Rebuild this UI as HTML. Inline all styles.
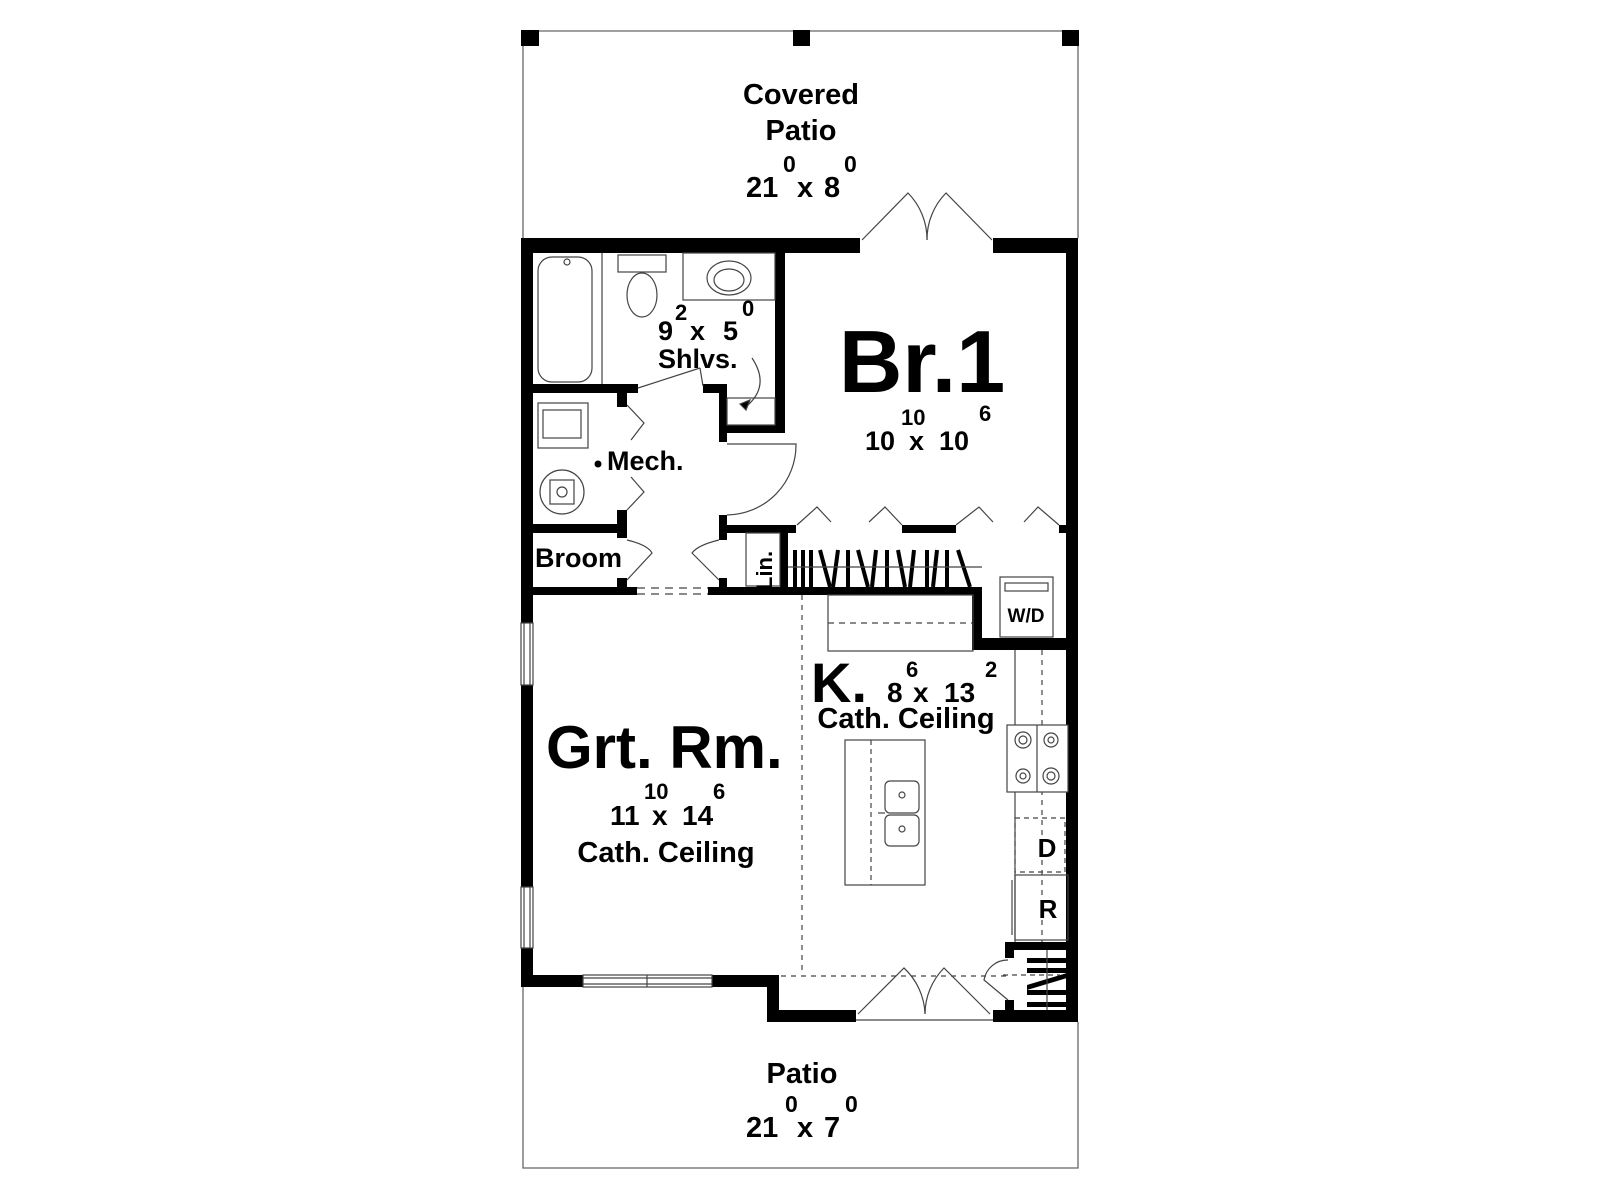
<!DOCTYPE html>
<html><head><meta charset="utf-8"><style>
html,body{margin:0;padding:0;background:#fff;}
svg{display:block;}
text{font-family:"Liberation Sans",Arial,sans-serif;font-weight:bold;fill:#000;}
</style></head><body>
<svg width="1600" height="1200" viewBox="0 0 1600 1200" xmlns="http://www.w3.org/2000/svg">
<g fill="none" stroke="#666" stroke-width="1.3">
<!-- covered patio -->
<polyline points="523,238 523,31 1078,31 1078,238"/>
<!-- bottom patio -->
<polyline points="523,987 523,1168 1078,1168 1078,1022"/>
</g>
<g fill="#000">
<rect x="521" y="30" width="18" height="16"/><rect x="793" y="30" width="17" height="16"/><rect x="1062" y="30" width="17" height="16"/>
<!-- outer walls -->
<rect x="521" y="238" width="339" height="15"/><rect x="993" y="238" width="85" height="15"/>
<rect x="1066" y="238" width="12" height="784"/>
<rect x="521" y="238" width="12" height="749"/>
<rect x="521" y="975" width="258" height="12"/>
<rect x="767" y="975" width="12" height="47"/>
<rect x="767" y="1010" width="89" height="12"/><rect x="993" y="1010" width="85" height="12"/>
<!-- interior -->
<rect x="775" y="253" width="10" height="180"/>
<rect x="533" y="384" width="105" height="9"/><rect x="703" y="384" width="24" height="9"/>
<rect x="719" y="384" width="8" height="58"/><rect x="719" y="425" width="66" height="8"/>
<rect x="617" y="393" width="10" height="14"/><rect x="617" y="510" width="10" height="28"/>
<rect x="533" y="524" width="94" height="9"/>
<rect x="617" y="578" width="10" height="10"/>
<rect x="533" y="587" width="104" height="8"/>
<rect x="719" y="515" width="8" height="25"/><rect x="719" y="578" width="8" height="10"/>
<rect x="708" y="587" width="274" height="8"/>
<rect x="972" y="587" width="10" height="63"/><rect x="972" y="638" width="106" height="12"/>
<rect x="725" y="525" width="71" height="8"/><rect x="902" y="525" width="54" height="8"/><rect x="1059" y="525" width="10" height="8"/>
<rect x="780" y="533" width="8" height="54"/>
<!-- stairs -->
<rect x="1005" y="942" width="9" height="16"/><rect x="1005" y="942" width="63" height="8"/>
<rect x="1005" y="1000" width="9" height="12"/>
<rect x="1027" y="958" width="39" height="5"/><rect x="1027" y="968" width="39" height="5"/>
<rect x="1027" y="990" width="39" height="5"/><rect x="1027" y="1002" width="39" height="5"/>
<polygon points="1027,985 1067,973 1067,978 1027,990"/>
<!-- closet hangers -->
<g stroke="#000" stroke-width="4">
<line x1="795" y1="550" x2="795" y2="587"/><line x1="803" y1="550" x2="803" y2="587"/>
<line x1="811" y1="550" x2="811" y2="587"/><line x1="820" y1="550" x2="830" y2="587"/>
<line x1="838" y1="550" x2="833" y2="587"/><line x1="848" y1="550" x2="848" y2="587"/>
<line x1="858" y1="550" x2="868" y2="587"/><line x1="876" y1="550" x2="872" y2="587"/>
<line x1="887" y1="550" x2="887" y2="587"/><line x1="898" y1="550" x2="905" y2="587"/>
<line x1="914" y1="550" x2="910" y2="587"/><line x1="927" y1="550" x2="927" y2="587"/>
<line x1="937" y1="550" x2="933" y2="587"/><line x1="947" y1="550" x2="947" y2="587"/>
<line x1="958" y1="550" x2="970" y2="587"/>
</g>
</g>
<g fill="none" stroke="#444" stroke-width="1.2">
<line x1="788" y1="567" x2="982" y2="567"/>
<!-- windows -->
<rect x="521" y="623" width="12" height="62" fill="#fff"/><line x1="524" y1="623" x2="524" y2="685"/><line x1="530" y1="623" x2="530" y2="685"/>
<rect x="521" y="887" width="12" height="61" fill="#fff"/><line x1="524" y1="887" x2="524" y2="948"/><line x1="530" y1="887" x2="530" y2="948"/>
<rect x="583" y="975" width="129" height="12" fill="#fff"/><line x1="583" y1="978" x2="712" y2="978"/><line x1="583" y1="984" x2="712" y2="984"/><line x1="647" y1="975" x2="647" y2="987"/>
<!-- top doors -->
<path d="M862,240 L908,193 A66,66 0 0 1 927,240"/><path d="M992,240 L946,193 A66,66 0 0 0 927,240"/>
<!-- bottom doors -->
<path d="M858,1014 L904,968 A66,66 0 0 1 925,1014"/><path d="M990,1014 L944,968 A66,66 0 0 0 925,1014"/>
<line x1="856" y1="1020" x2="993" y2="1020"/>
<!-- bath -->
<rect x="538" y="257" width="54" height="125" rx="14"/>
<line x1="602" y1="253" x2="602" y2="384"/>
<rect x="618" y="255" width="48" height="17"/>
<ellipse cx="642" cy="295" rx="15" ry="22"/>
<rect x="683" y="253" width="92" height="47"/>
<ellipse cx="729" cy="278" rx="22" ry="17"/><ellipse cx="729" cy="280" rx="15" ry="11"/>
<circle cx="567" cy="262" r="3"/>
<line x1="638" y1="388" x2="700" y2="368"/>
<line x1="700" y1="368" x2="703" y2="386"/>
<rect x="727" y="398" width="48" height="27"/>
<path d="M752,358 Q770,385 748,405"/><path d="M740,404 L750,400 L746,410 Z" fill="#000"/>
<!-- mech -->
<rect x="538" y="403" width="50" height="45"/><rect x="543" y="410" width="38" height="28"/>
<circle cx="562" cy="492" r="22"/><rect x="550" y="480" width="24" height="24"/><circle cx="562" cy="492" r="5"/>
<polyline points="627,405 644,423 631,440"/><polyline points="631,477 644,492 627,510"/>
<!-- broom door / hall door -->
<path d="M627,540 Q648,545 652,553 L627,580"/>
<path d="M719,540 Q698,545 692,553 L719,580"/>
<line x1="637" y1="588" x2="708" y2="588" stroke-dasharray="8,6"/><line x1="637" y1="594" x2="708" y2="594" stroke-dasharray="8,6"/>
<!-- br1 door -->
<path d="M727,444 L796,444 A70,70 0 0 1 727,515"/>
<!-- bifold -->
<polyline points="797,525 817,507 831,522"/><polyline points="869,522 885,507 902,525"/>
<polyline points="956,525 979,507 993,522"/><polyline points="1024,522 1038,507 1059,525"/>
<!-- lin -->
<rect x="746" y="533" width="34" height="53"/>
<!-- W/D -->
<rect x="1000" y="577" width="53" height="60"/><rect x="1005" y="583" width="43" height="8"/>
<!-- counter -->
<rect x="828" y="595" width="145" height="56"/>
<line x1="828" y1="623" x2="972" y2="623" stroke-dasharray="6,5"/>
<line x1="802" y1="595" x2="802" y2="975" stroke-dasharray="5,5"/>
<line x1="781" y1="976" x2="1008" y2="976" stroke-dasharray="5,5"/>
<!-- kitchen right counter -->
<line x1="1015" y1="650" x2="1015" y2="942"/>
<line x1="1042" y1="650" x2="1042" y2="942" stroke-dasharray="5,5"/>
<rect x="1007" y="725" width="61" height="67" fill="#fff"/>
<line x1="1037" y1="725" x2="1037" y2="792"/>
<circle cx="1023" cy="740" r="8"/><circle cx="1023" cy="740" r="4"/><circle cx="1051" cy="740" r="7"/><circle cx="1051" cy="740" r="3"/>
<circle cx="1023" cy="776" r="7"/><circle cx="1023" cy="776" r="3"/><circle cx="1051" cy="776" r="8"/><circle cx="1051" cy="776" r="4"/>
<rect x="1015" y="818" width="50" height="54" stroke-dasharray="5,4"/>
<rect x="1015" y="875" width="53" height="65"/><line x1="1012" y1="880" x2="1012" y2="935"/>
<!-- stairs misc -->
<line x1="1047" y1="950" x2="1047" y2="1010"/>
<line x1="1003" y1="975" x2="1060" y2="975" stroke-dasharray="5,4"/>
<path d="M1008,960 A24,24 0 0 0 984,980 L1008,1000"/>
<!-- island -->
<rect x="845" y="740" width="80" height="145"/>
<line x1="871" y1="740" x2="871" y2="885" stroke-dasharray="5,4"/>
<rect x="885" y="781" width="34" height="32" rx="5"/><rect x="885" y="815" width="34" height="31" rx="5"/>
<circle cx="902" cy="795" r="3"/><circle cx="902" cy="829" r="3"/>
<line x1="878" y1="813" x2="885" y2="813"/>
</g>
<circle cx="598" cy="464" r="3.5" fill="#000"/>
<!-- labels -->
<text x="801" y="104" font-size="29" text-anchor="middle">Covered</text>
<text x="801" y="140" font-size="29" text-anchor="middle">Patio</text>
<text x="746" y="197" font-size="29">21</text><text x="797" y="197" font-size="29">x</text><text x="824" y="197" font-size="29">8</text>
<text x="783" y="172" font-size="23">0</text><text x="844" y="172" font-size="23">0</text>
<text x="802" y="1083" font-size="29" text-anchor="middle">Patio</text>
<text x="746" y="1137" font-size="29">21</text><text x="797" y="1137" font-size="29">x</text><text x="824" y="1137" font-size="29">7</text>
<text x="785" y="1112" font-size="23">0</text><text x="845" y="1112" font-size="23">0</text>
<text x="922" y="392" font-size="88" text-anchor="middle">Br.1</text>
<text x="865" y="450" font-size="27">10</text><text x="909" y="450" font-size="27">x</text><text x="939" y="450" font-size="27">10</text>
<text x="901" y="425" font-size="22">10</text><text x="979" y="421" font-size="22">6</text>
<text x="658" y="340" font-size="27">9</text><text x="690" y="340" font-size="27">x</text><text x="723" y="340" font-size="27">5</text>
<text x="675" y="320" font-size="22">2</text><text x="742" y="316" font-size="22">0</text>
<text x="658" y="368" font-size="27">Shlvs.</text>
<text x="607" y="470" font-size="27">Mech.</text>
<text x="535" y="567" font-size="27">Broom</text>
<text x="1026" y="622" font-size="19" text-anchor="middle">W/D</text>
<text transform="translate(772,590) rotate(-90)" font-size="22">Lin.</text>
<text x="546" y="768" font-size="60">Grt. Rm.</text>
<text x="610" y="825" font-size="28">11</text><text x="652" y="825" font-size="28">x</text><text x="682" y="825" font-size="28">14</text>
<text x="644" y="799" font-size="22">10</text><text x="713" y="799" font-size="22">6</text>
<text x="666" y="862" font-size="29" text-anchor="middle">Cath. Ceiling</text>
<text x="811" y="702" font-size="56">K.</text>
<text x="887" y="702" font-size="28">8</text><text x="913" y="702" font-size="28">x</text><text x="944" y="702" font-size="28">13</text>
<text x="906" y="677" font-size="22">6</text><text x="985" y="677" font-size="22">2</text>
<text x="906" y="728" font-size="29" text-anchor="middle">Cath. Ceiling</text>
<text x="1047" y="857" font-size="26" text-anchor="middle">D</text>
<text x="1048" y="918" font-size="26" text-anchor="middle">R</text>
</svg>
</body></html>
